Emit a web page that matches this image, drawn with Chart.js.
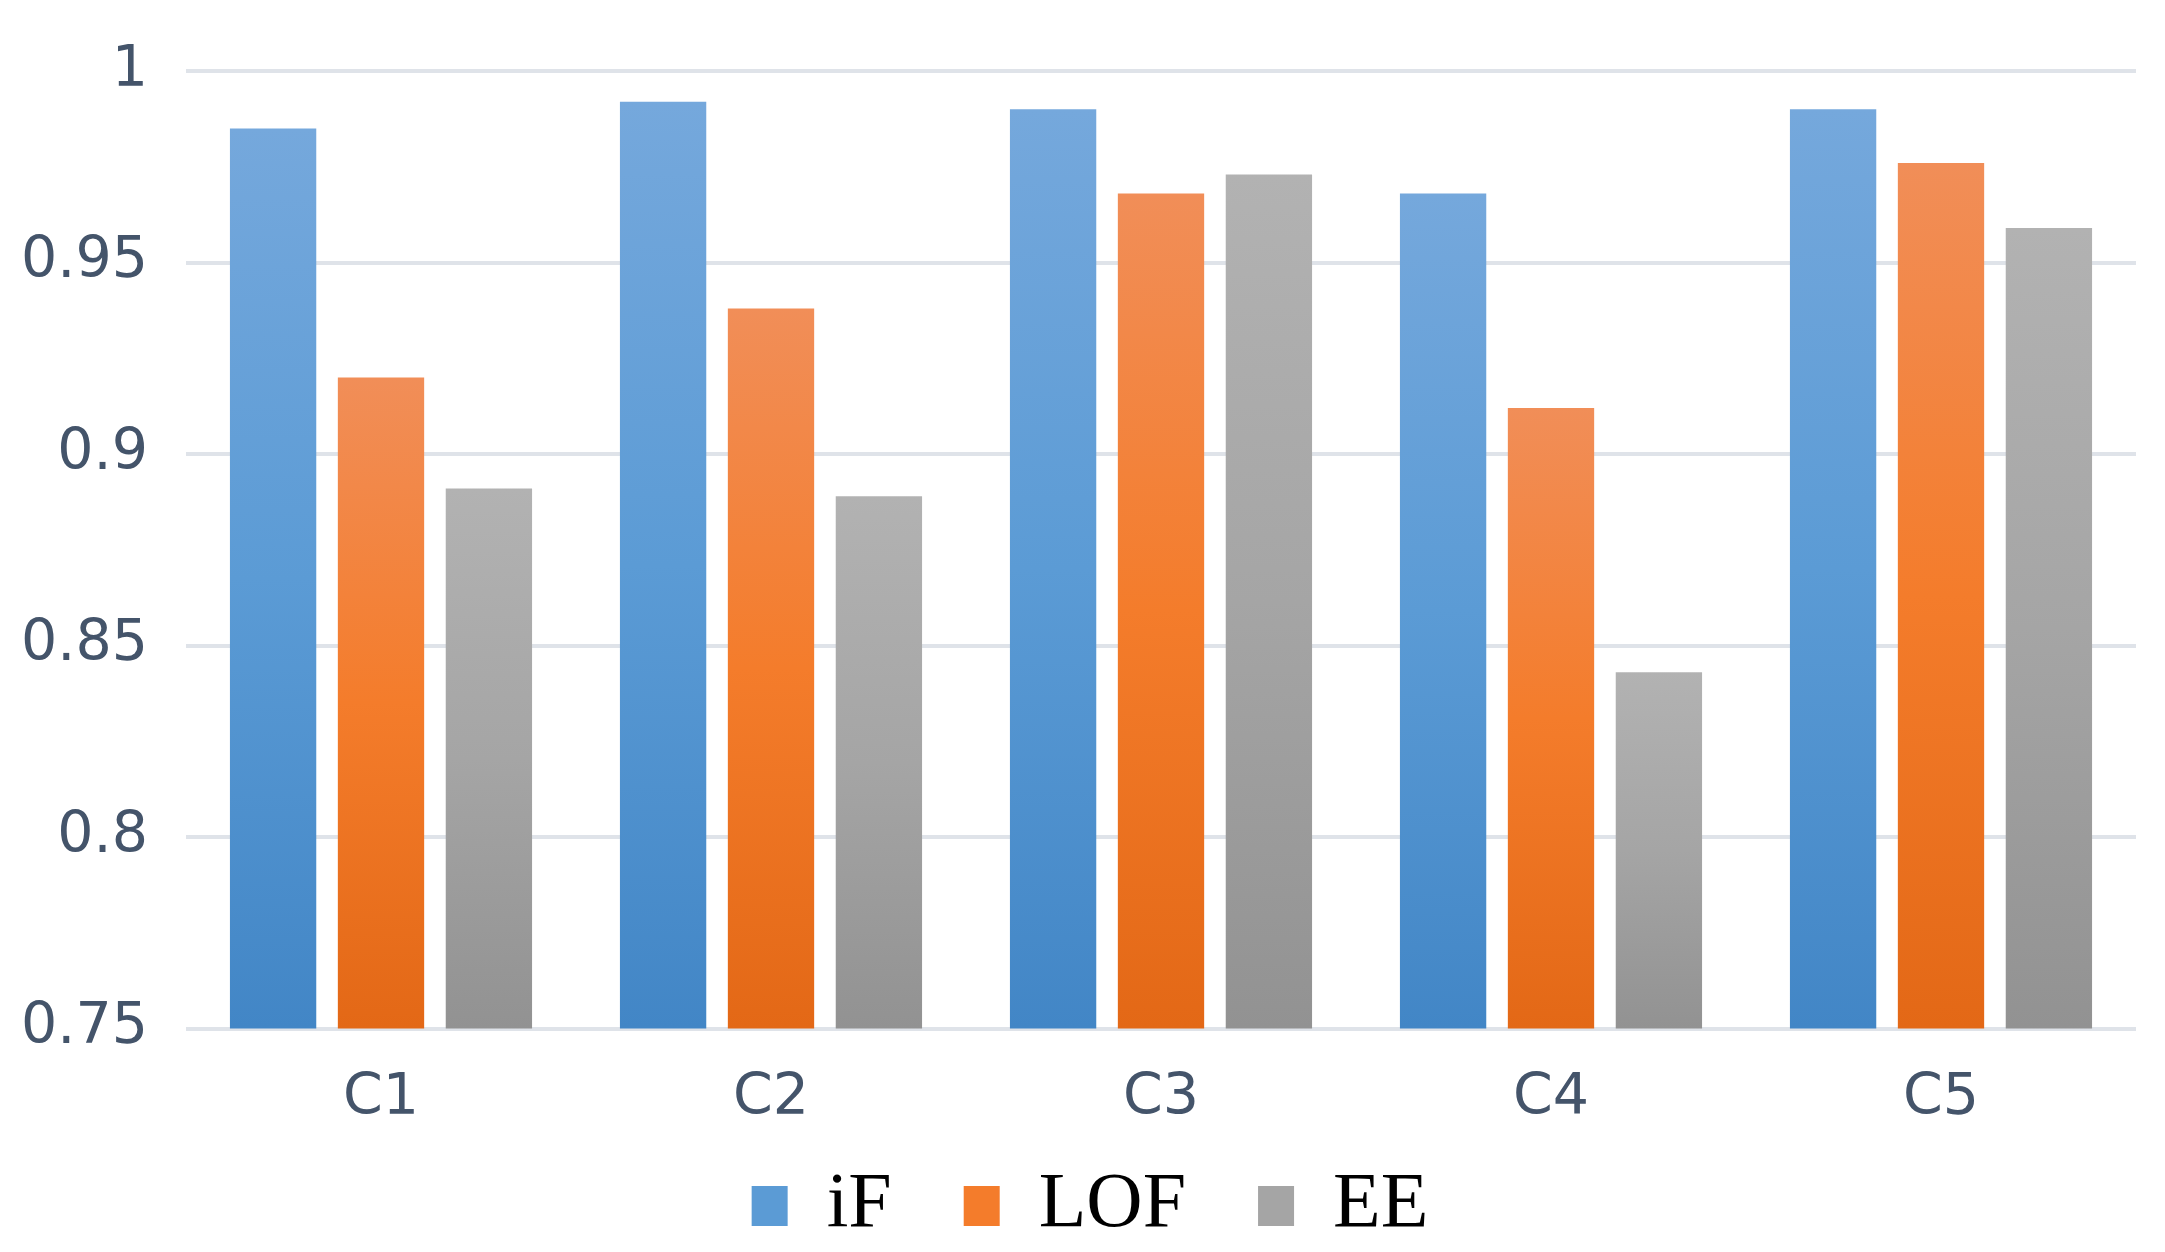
<!DOCTYPE html>
<html>
<head>
<meta charset="utf-8">
<script src="https://cdn.jsdelivr.net/npm/chart.js@4/dist/chart.umd.min.js"></script>
<style>
  html, body { margin: 0; padding: 0; background: #ffffff; }
  #wrap { width: 2165px; height: 1252px; position: relative; }
</style>
</head>
<body>
<div id="wrap"><canvas id="c" width="2165" height="1252"></canvas></div>
<script>
const categories = ["C1", "C2", "C3", "C4", "C5"];
const seriesNames = ["iF", "LOF", "EE"];
const iFValues = [0.985, 0.992, 0.990, 0.968, 0.990];
const lofValues = [0.920, 0.938, 0.968, 0.912, 0.976];
const eeValues = [0.891, 0.889, 0.973, 0.843, 0.959];
const yTicks = [0.75, 0.8, 0.85, 0.9, 0.95, 1];

const palettes = [
  ["#75a8dc", "#5b9bd5", "#4286c6"],
  ["#f18e58", "#f47c2b", "#e36816"],
  ["#b2b2b2", "#a5a5a5", "#929292"]
];

function gradFill(pal) {
  return function (ctx) {
    const chart = ctx.chart;
    const area = chart.chartArea;
    if (!area || ctx.raw === undefined || !chart.scales.y) return pal[1];
    const top = chart.scales.y.getPixelForValue(ctx.raw);
    const g = chart.ctx.createLinearGradient(0, top, 0, area.bottom);
    g.addColorStop(0, pal[0]);
    g.addColorStop(0.5, pal[1]);
    g.addColorStop(1, pal[2]);
    return g;
  };
}

const allValues = [iFValues, lofValues, eeValues];
const datasets = seriesNames.map((name, i) => ({
  label: name,
  data: allValues[i],
  backgroundColor: gradFill(palettes[i]),
  borderWidth: 0,
  categoryPercentage: 0.83,
  barPercentage: 0.80
}));

// legend: keep wide horizontal spacing but a compact box, drawn a little higher
const LEGEND_H = 83;
const LEGEND_DY = -74;
const LEGEND_DX = 22;
const legendFix = {
  id: "legendFix",
  afterInit(chart) {
    const lg = chart.legend;
    if (!lg) return;
    const fit0 = lg.fit;
    lg.fit = function () { fit0.call(this); if (this.isHorizontal()) this.height = LEGEND_H; };
    const draw0 = lg.draw;
    lg.draw = function () {
      const t = this.top, l = this.left, r = this.right;
      this.top = t + LEGEND_DY;
      this.left = l + LEGEND_DX;
      this.right = r + LEGEND_DX;
      draw0.call(this);
      this.top = t; this.left = l; this.right = r;
    };
  }
};

new Chart(document.getElementById("c"), {
  type: "bar",
  data: { labels: categories, datasets: datasets },
  plugins: [legendFix],
  options: {
    responsive: false,
    animation: false,
    devicePixelRatio: 1,
    layout: { padding: { left: 0, right: 29, top: 71, bottom: 0 } },
    plugins: {
      tooltip: { enabled: false },
      legend: {
        position: "bottom",
        labels: {
          boxWidth: 36,
          boxHeight: 40,
          padding: 72,
          color: "#000000",
          font: { family: "'Liberation Serif', 'Times New Roman', serif", size: 78 },
          generateLabels: function (chart) {
            return seriesNames.map((n, i) => ({
              text: n,
              fillStyle: palettes[i][1],
              strokeStyle: palettes[i][1],
              lineWidth: 0,
              datasetIndex: i,
              fontColor: "#000000"
            }));
          }
        }
      }
    },
    scales: {
      x: {
        grid: { display: false, drawTicks: false },
        border: { display: false },
        ticks: {
          color: "#44546a",
          padding: 36,
          font: { family: "'DejaVu Sans'", size: 57 }
        }
      },
      y: {
        min: 0.75,
        max: 1,
        afterFit: function (axis) {
          axis.width = 186;
          axis.paddingTop = 0;
          axis.paddingBottom = 0;
        },
        afterBuildTicks: function (axis) {
          axis.ticks = yTicks.map(v => ({ value: v }));
        },
        grid: { color: "#dfe3e9", lineWidth: 4, drawTicks: false },
        border: { display: false },
        ticks: {
          color: "#44546a",
          padding: 38,
          font: { family: "'DejaVu Sans'", size: 57 },
          callback: function (v) { return String(Math.round(v * 100) / 100); }
        }
      }
    }
  }
});
</script>
</body>
</html>
